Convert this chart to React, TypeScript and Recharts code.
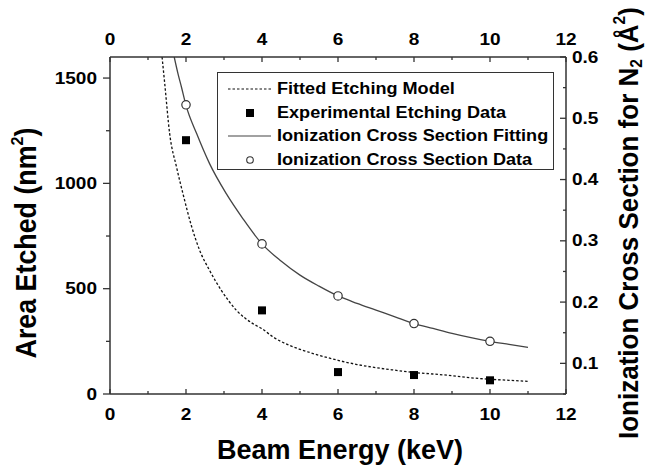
import React from 'react';
import { ComposedChart, Line, Scatter, XAxis, YAxis, Legend } from 'recharts';

// ticks
const xTicks = [0, 1, 2, 3, 4, 5, 6, 7, 8, 9, 10, 11, 12];
const leftTicks = [0, 250, 500, 750, 1000, 1250, 1500];
const rightTicks = [0.05, 0.1, 0.15, 0.2, 0.25, 0.3, 0.35, 0.4, 0.45, 0.5, 0.55, 0.6];

// measured points (keV)
const expEnergy = [2, 4, 6, 8, 10];
const etchArea = [1205, 397, 104, 90, 65];
const ionCross = [0.522, 0.295, 0.21, 0.165, 0.136];

// fitted etching model
const fitEtchX = [1.37, 1.44, 1.57, 1.75, 1.92, 2.14, 2.36, 2.62, 2.93, 3.33, 3.76, 4.0, 4.29, 4.72, 5.0, 5.5, 6.0, 6.5, 7.0, 7.5, 8.0, 8.5, 9.0, 9.5, 10, 10.5, 11];
const fitEtchY = [1600, 1474, 1236, 1078, 951, 800, 682, 587, 492, 397, 334, 310, 271, 231, 212, 184, 160, 140, 125, 113, 102, 95, 87, 77, 70, 65, 60];

// ionization cross section fit
const fitIonX = [1.69, 1.8, 1.88, 2.0, 2.28, 2.62, 3.06, 3.5, 4.0, 4.5, 5.0, 5.5, 6.0, 6.5, 7.0, 7.5, 8.0, 8.5, 9.0, 9.5, 10, 10.5, 11];
const fitIonY = [0.6, 0.57, 0.551, 0.521, 0.475, 0.426, 0.377, 0.336, 0.295, 0.267, 0.244, 0.226, 0.21, 0.198, 0.187, 0.176, 0.165, 0.157, 0.149, 0.142, 0.136, 0.131, 0.126];

const seriesNames = [
  'Fitted Etching Model',
  'Experimental Etching Data',
  'Ionization Cross Section Fitting',
  'Ionization Cross Section Data',
];

const etchPoints = expEnergy.map((x, i) => ({ x, y: etchArea[i] }));
const ionPoints = expEnergy.map((x, i) => ({ x, y: ionCross[i] }));
const etchFit = fitEtchX.map((x, i) => ({ x, y: fitEtchY[i] }));
const ionFit = fitIonX.map((x, i) => ({ x, y: fitIonY[i] }));

const AXIS = '#333';
const FONT = '"Liberation Sans", Arial, Helvetica, sans-serif';
const tickText = { fontSize: 17, fontWeight: 700, fill: '#000', fontFamily: FONT };

// tick labels in the original are a little wider than Arial
const TickLabel = ({ x, y, anchor, children }: any) => (
  <g transform={`translate(${x},${y}) scale(1.12,1)`}>
    <text x={0} y={0} textAnchor={anchor} dominantBaseline="central" {...tickText}>
      {children}
    </text>
  </g>
);

const BottomTick = (props: any) => {
  const { x, y, payload } = props;
  const v = payload.value;
  const major = v % 2 === 0;
  return (
    <g>
      <line x1={x} y1={y} x2={x} y2={y - (major ? 5 : 3)} stroke={AXIS} strokeWidth={1.3} />
      {major && <TickLabel x={x} y={y + 20} anchor="middle">{v}</TickLabel>}
    </g>
  );
};

const TopTick = (props: any) => {
  const { x, y, payload } = props;
  const v = payload.value;
  const major = v % 2 === 0;
  return (
    <g>
      <line x1={x} y1={y} x2={x} y2={y + (major ? 5 : 3)} stroke={AXIS} strokeWidth={1.3} />
      {major && <TickLabel x={x} y={y - 18} anchor="middle">{v}</TickLabel>}
    </g>
  );
};

const LeftTick = (props: any) => {
  const { x, y, payload } = props;
  const v = payload.value;
  const major = v % 500 === 0;
  return (
    <g>
      <line x1={x} y1={y} x2={x - (major ? 7 : 4)} y2={y} stroke={AXIS} strokeWidth={1.3} />
      {major && <TickLabel x={x - 13} y={y} anchor="end">{v}</TickLabel>}
    </g>
  );
};

const RightTick = (props: any) => {
  const { x, y, payload } = props;
  const v = payload.value;
  const major = Math.round(v * 100) % 10 === 0;
  return (
    <g>
      <line x1={x} y1={y} x2={x - (major ? 6 : 3)} y2={y} stroke={AXIS} strokeWidth={1.3} />
      {major && <TickLabel x={x + 6} y={y} anchor="start">{v.toFixed(1)}</TickLabel>}
    </g>
  );
};

const SquareDot = (p: any) => <rect x={p.cx - 4} y={p.cy - 4} width={8} height={8} fill="#000" />;
const CircleDot = (p: any) => (
  <circle cx={p.cx} cy={p.cy} r={4.2} fill="#fff" stroke="#333" strokeWidth={1.2} />
);

const legendSymbol = (i: number) => {
  if (i === 0) return <line x1={0} y1={6} x2={43} y2={6} stroke="#111" strokeWidth={1.2} strokeDasharray="2.5 2" />;
  if (i === 1) return <rect x={18} y={2} width={8} height={8} fill="#000" />;
  if (i === 2) return <line x1={0} y1={6} x2={43} y2={6} stroke="#444" strokeWidth={1.2} />;
  return <circle cx={22} cy={6} r={3.3} fill="#fff" stroke="#333" strokeWidth={1.1} />;
};

const LegendBox = () => (
  <div
    style={{
      width: 337,
      height: 98,
      boxSizing: 'border-box',
      border: '1.5px solid #333',
      background: '#fff',
      paddingTop: 4,
    }}
  >
    {seriesNames.map((name, i) => (
      <div key={name} style={{ display: 'flex', alignItems: 'center', height: 23.7 }}>
        <svg width={43} height={12} style={{ marginLeft: 10, marginRight: 6, flexShrink: 0 }}>
          {legendSymbol(i)}
        </svg>
        <span
          style={{
            display: 'inline-block',
            fontFamily: FONT,
            fontWeight: 700,
            fontSize: 16,
            color: '#000',
            whiteSpace: 'nowrap',
            transform: 'scaleX(1.13)',
            transformOrigin: 'left center',
          }}
        >
          {name}
        </span>
      </div>
    ))}
  </div>
);

const titleStyle: React.CSSProperties = {
  position: 'absolute',
  whiteSpace: 'nowrap',
  fontFamily: FONT,
  fontWeight: 700,
  lineHeight: 1,
  color: '#000',
};

const sup: React.CSSProperties = { fontSize: '0.6em', position: 'relative', top: '-0.75em' };
const sub: React.CSSProperties = { fontSize: '0.6em', position: 'relative', top: '0.25em' };

export default function App() {
  return (
    <div style={{ position: 'absolute', left: 0, top: 0, width: 648, height: 471, background: '#fff' }}>
      <ComposedChart width={648} height={471} margin={{ top: 30, right: 30, bottom: 47, left: 50 }}>
        <XAxis
          xAxisId="bottom"
          dataKey="x"
          type="number"
          domain={[0, 12]}
          ticks={xTicks}
          interval={0}
          height={30}
          tickSize={0}
          tickMargin={0}
          tick={<BottomTick />}
          axisLine={{ stroke: AXIS, strokeWidth: 1.5 }}
          tickLine={false}
          allowDataOverflow
        />
        <XAxis
          xAxisId="top"
          dataKey="x"
          orientation="top"
          type="number"
          domain={[0, 12]}
          ticks={xTicks}
          interval={0}
          height={27}
          tickSize={0}
          tickMargin={0}
          tick={<TopTick />}
          axisLine={{ stroke: AXIS, strokeWidth: 1.5 }}
          tickLine={false}
          allowDataOverflow
        />
        <YAxis
          yAxisId="left"
          type="number"
          domain={[0, 1600]}
          ticks={leftTicks}
          interval={0}
          width={60}
          tickSize={0}
          tickMargin={0}
          tick={<LeftTick />}
          axisLine={{ stroke: AXIS, strokeWidth: 1.5 }}
          tickLine={false}
          allowDataOverflow
        />
        <YAxis
          yAxisId="right"
          orientation="right"
          type="number"
          domain={[0.05, 0.6]}
          ticks={rightTicks}
          interval={0}
          width={52}
          tickSize={0}
          tickMargin={0}
          tick={<RightTick />}
          axisLine={{ stroke: AXIS, strokeWidth: 1.5 }}
          tickLine={false}
          allowDataOverflow
        />
        <Legend
          layout="horizontal"
          verticalAlign="middle"
          align="center"
          content={<LegendBox />}
          wrapperStyle={{ position: 'absolute', left: 217, top: 72, width: 337, height: 98 }}
        />
        <Line
          xAxisId="bottom"
          yAxisId="left"
          data={etchFit}
          dataKey="y"
          type="monotone"
          stroke="#111"
          strokeWidth={1.3}
          strokeDasharray="2.5 2"
          dot={false}
          isAnimationActive={false}
        />
        <Line
          xAxisId="bottom"
          yAxisId="right"
          data={ionFit}
          dataKey="y"
          type="monotone"
          stroke="#444"
          strokeWidth={1.3}
          dot={false}
          isAnimationActive={false}
        />
        <Scatter
          xAxisId="bottom"
          yAxisId="left"
          data={etchPoints}
          dataKey="y"
          shape={<SquareDot />}
          isAnimationActive={false}
        />
        <Scatter
          xAxisId="bottom"
          yAxisId="right"
          data={ionPoints}
          dataKey="y"
          shape={<CircleDot />}
          isAnimationActive={false}
        />
      </ComposedChart>
      <div
        style={{
          ...titleStyle,
          fontSize: 26.8,
          left: 27,
          top: 243,
          transform: 'translate(-50%, -50%) rotate(-90deg) scaleY(1.08)',
        }}
      >
        Area Etched (nm<span style={sup}>2</span>)
      </div>
      <div
        style={{
          ...titleStyle,
          fontSize: 26,
          left: 628,
          top: 223,
          transform: 'translate(-50%, -50%) rotate(-90deg) scaleY(1.06)',
        }}
      >
        Ionization Cross Section for N<span style={sub}>2</span> (Å<span style={sup}>2</span>)
      </div>
      <div style={{ ...titleStyle, fontSize: 27, left: 340, top: 450, transform: 'translate(-50%, -50%)' }}>
        Beam Energy (keV)
      </div>
    </div>
  );
}
